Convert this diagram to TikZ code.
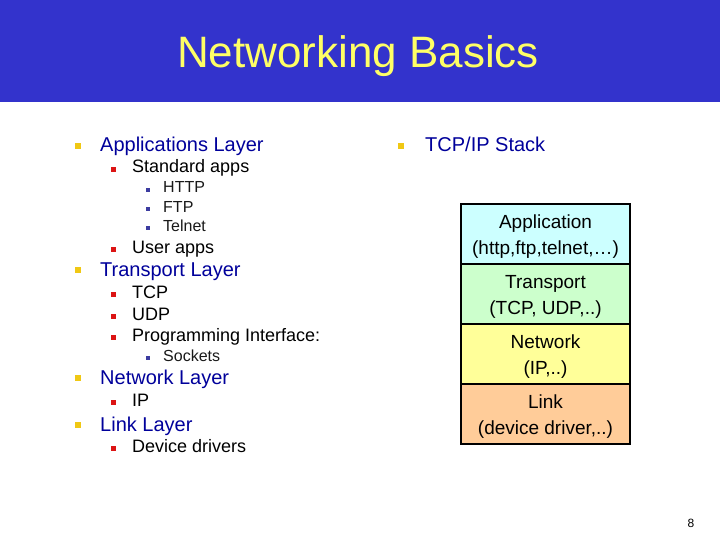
\documentclass[tikz,border=0pt]{standalone}
\usepackage{fontspec}
\setmainfont{Liberation Sans}
\definecolor{band}{RGB}{51,51,204}
\definecolor{titlecol}{RGB}{255,255,102}
\definecolor{lonecol}{RGB}{0,0,155}
\definecolor{bulone}{RGB}{240,200,20}
\definecolor{bultwo}{RGB}{220,20,20}
\definecolor{bulthree}{RGB}{60,60,160}
\definecolor{appcol}{RGB}{204,255,255}
\definecolor{transcol}{RGB}{204,255,204}
\definecolor{netcol}{RGB}{255,255,153}
\definecolor{linkcol}{RGB}{255,204,153}
\newcommand{\topstrut}{\rule{0pt}{18pt}}
\tikzset{
  lone/.style={anchor=base west, inner sep=0pt, text=lonecol, font=\fontsize{20}{24}\selectfont},
  ltwo/.style={anchor=base west, inner sep=0pt, text=black, font=\fontsize{18}{22}\selectfont},
  lthree/.style={anchor=base west, inner sep=0pt, text=black!90, font=\fontsize{16}{19}\selectfont},
  bone/.style={rectangle, fill=bulone, inner sep=0pt, minimum size=6pt},
  btwo/.style={rectangle, fill=bultwo, inner sep=0pt, minimum size=5pt},
  bthree/.style={rectangle, fill=bulthree, inner sep=0pt, minimum size=4pt},
  layerbox/.style={rectangle, draw=black, line width=1.5pt, minimum width=169pt, minimum height=60pt,
    inner sep=0pt, align=center, font=\fontsize{19}{26}\selectfont},
}
\begin{document}
\begin{tikzpicture}[x=1pt,y=-1pt]
\useasboundingbox (0,0) rectangle (720,540);
\fill[white] (0,0) rectangle (720,540);
\fill[band] (0,0) rectangle (720,102);
\node[anchor=base, inner sep=0pt, text=titlecol, font=\fontsize{44}{50}\selectfont] (title) at (358,68) {Networking Basics};

% left column
\node[bone] (b1) at (78,146) {};
\node[lone] (t1) at (100,152) {Applications Layer};
\node[btwo] (b2) at (113,169.5) {};
\node[ltwo] (t2) at (132,173) {Standard apps};
\node[bthree] (b3) at (148,190) {};
\node[lthree] (t3) at (163,193) {HTTP};
\node[bthree] (b4) at (148,209) {};
\node[lthree] (t4) at (163,212) {FTP};
\node[bthree] (b5) at (148,228) {};
\node[lthree] (t5) at (163,231) {Telnet};
\node[btwo] (b6) at (113,249.5) {};
\node[ltwo] (t6) at (132,253) {User apps};
\node[bone] (b7) at (78,270) {};
\node[lone] (t7) at (100,276) {Transport Layer};
\node[btwo] (b8) at (113,294.5) {};
\node[ltwo] (t8) at (132,298) {TCP};
\node[btwo] (b9) at (113,316.5) {};
\node[ltwo] (t9) at (132,320) {UDP};
\node[btwo] (b10) at (113,337.5) {};
\node[ltwo] (t10) at (132,341) {Programming Interface:};
\node[bthree] (b11) at (148,358) {};
\node[lthree] (t11) at (163,361) {Sockets};
\node[bone] (b12) at (78,378) {};
\node[lone] (t12) at (100,384) {Network Layer};
\node[btwo] (b13) at (113,402.5) {};
\node[ltwo] (t13) at (132,406) {IP};
\node[bone] (b14) at (78,425) {};
\node[lone] (t14) at (100,431) {Link Layer};
\node[btwo] (b15) at (113,448.5) {};
\node[ltwo] (t15) at (132,452) {Device drivers};

% right column
\node[bone] (b16) at (401,146) {};
\node[lone] (t16) at (425,152) {TCP/IP Stack};

\node[layerbox, fill=appcol] (app) at (545.5,234) {\topstrut Application\\(http,ftp,telnet,\dots)};
\node[layerbox, fill=transcol] (trans) at (545.5,294) {\topstrut Transport\\(TCP, UDP,..)};
\node[layerbox, fill=netcol] (net) at (545.5,354) {\topstrut Network\\(IP,..)};
\node[layerbox, fill=linkcol] (link) at (545.5,414) {\topstrut Link\\(device driver,..)};

\node[anchor=base, inner sep=0pt, font=\fontsize{12}{14}\selectfont] (pnum) at (691,527) {8};
\end{tikzpicture}
\end{document}
